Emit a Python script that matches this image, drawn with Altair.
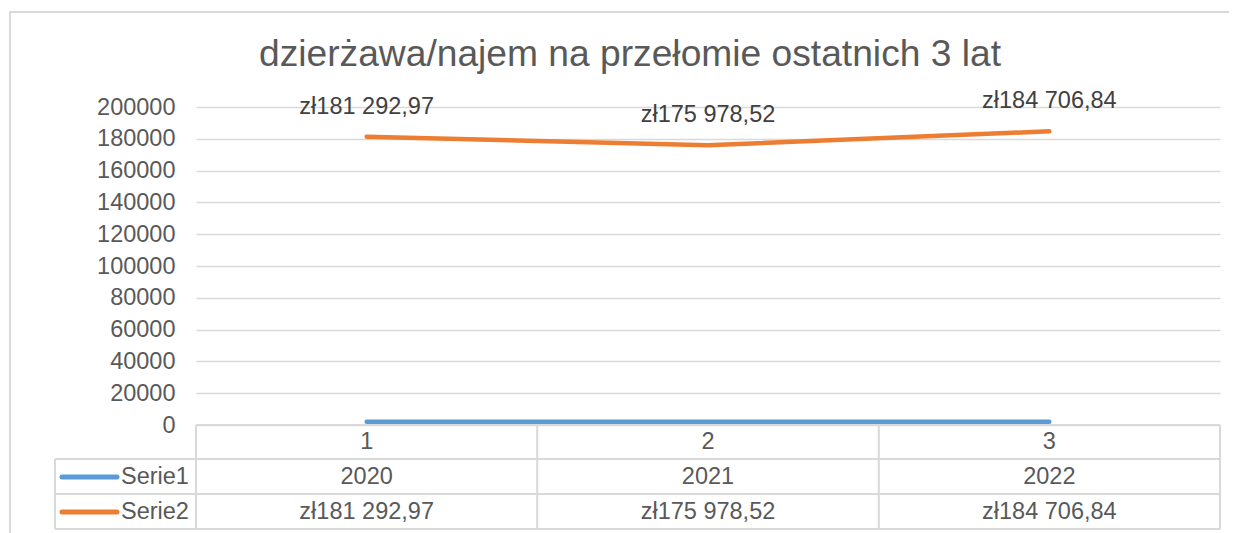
import altair as alt
import pandas as pd

# ---- data ----
categories = ["1", "2", "3"]
serie1 = [2020, 2021, 2022]
serie2 = [181292.97, 175978.52, 184706.84]
series_names = ["Serie1", "Serie2"]
y_ticks = [0, 20000, 40000, 60000, 80000, 100000, 120000, 140000, 160000, 180000, 200000]
title_text = "dzierżawa/najem na przełomie ostatnich 3 lat"

BLUE = "#5B9BD5"
ORANGE = "#ED7D31"
GRID = "#D9D9D9"
TXT = "#595959"
LBL = "#404040"
FONT = "Liberation Sans"
FS = 23.5


def pln(v):
    s = f"{v:,.2f}".replace(",", " ").replace(".", ",")
    return "zł" + s


rows = []
for c, a, b in zip(categories, serie1, serie2):
    rows.append({"cat": c, "series": "Serie1", "value": a, "label": str(a)})
    rows.append({"cat": c, "series": "Serie2", "value": b, "label": pln(b)})
df = pd.DataFrame(rows)
cat_df = pd.DataFrame({"cat": categories})

W, H = 1024, 318

x_enc = alt.X("cat:N", scale=alt.Scale(type="point", padding=0.5, domain=categories), axis=None)
y_enc = alt.Y(
    "value:Q",
    scale=alt.Scale(domain=[0, 200000], nice=False),
    axis=alt.Axis(
        values=y_ticks, tickCount=11, title=None, domain=False, ticks=False, grid=True,
        gridColor=GRID, gridWidth=1.5, labelFont=FONT, labelFontSize=FS,
        labelColor=TXT, labelPadding=21, format="d", labelOverlap=False,
    ),
)

base = alt.Chart(df)

lines = base.mark_line(strokeWidth=4.5, strokeCap="round", strokeJoin="round").encode(
    x=x_enc,
    y=y_enc,
    color=alt.Color("series:N", scale=alt.Scale(domain=series_names, range=[BLUE, ORANGE]), legend=None),
    detail="series:N",
)

data_labels = base.transform_filter(alt.datum.series == "Serie2").mark_text(
    font=FONT, fontSize=FS, color=LBL, baseline="alphabetic", dy=-23
).encode(x=x_enc, y=y_enc, text="label:N")

layers = []

# outer chart border
layers.append(
    alt.Chart(cat_df).mark_rect(fill=None, stroke=GRID, strokeWidth=1.3).encode(
        x=alt.value(-186), x2=alt.value(1080), y=alt.value(-95), y2=alt.value(460)
    )
)

# table horizontal lines
for yy, x0 in [(318, 0), (352, -141), (387, -141), (422, -141)]:
    layers.append(
        alt.Chart(cat_df).mark_rule(color=GRID, strokeWidth=1.5).encode(
            x=alt.value(x0), x2=alt.value(W), y=alt.value(yy)
        )
    )
# table vertical lines
for i in range(4):
    layers.append(
        alt.Chart(cat_df).mark_rule(color=GRID, strokeWidth=1.5).encode(
            x=alt.value(i * W / 3), y=alt.value(318), y2=alt.value(422)
        )
    )
layers.append(
    alt.Chart(cat_df).mark_rule(color=GRID, strokeWidth=1.5).encode(
        x=alt.value(-141), y=alt.value(352), y2=alt.value(422)
    )
)

layers.append(lines)
layers.append(data_labels)

# category labels row
layers.append(
    alt.Chart(cat_df).mark_text(font=FONT, fontSize=FS, color=TXT, baseline="middle").encode(
        x=x_enc, y=alt.value(335), text="cat:N"
    )
)
# series value rows
for name, yy, col in [("Serie1", 370, BLUE), ("Serie2", 405, ORANGE)]:
    layers.append(
        base.transform_filter(alt.datum.series == name).mark_text(
            font=FONT, fontSize=FS, color=TXT, baseline="middle"
        ).encode(x=x_enc, y=alt.value(yy), text="label:N")
    )
    layers.append(
        alt.Chart(pd.DataFrame({"series": [name]})).mark_rule(strokeWidth=5, strokeCap="round", color=col).encode(
            x=alt.value(-134), x2=alt.value(-79), y=alt.value(yy)
        )
    )
    layers.append(
        alt.Chart(pd.DataFrame({"series": [name]})).mark_text(
            font=FONT, fontSize=FS, color=TXT, baseline="middle", align="left"
        ).encode(x=alt.value(-75), y=alt.value(yy), text="series:N")
    )

# chart title
layers.append(
    alt.Chart(pd.DataFrame({"t": [title_text]})).mark_text(
        font=FONT, fontSize=37.2, color=TXT, baseline="alphabetic", align="center"
    ).encode(x=alt.value(434), y=alt.value(-41), text="t:N")
)

chart = alt.layer(*layers).properties(
    width=W,
    height=H,
    autosize=alt.AutoSizeParams(type="none"),
    padding={"left": 188, "top": 99, "right": 9, "bottom": 108},
    background="white",
).configure_view(stroke=None)

chart.save("out.html", embed_options={"renderer": "svg", "actions": False})
